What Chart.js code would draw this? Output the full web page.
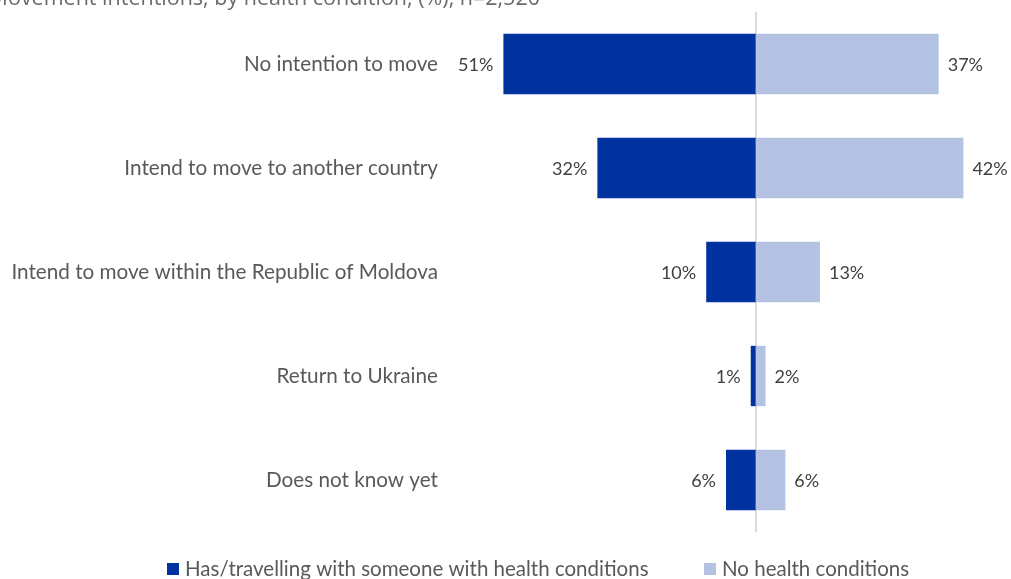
<!DOCTYPE html>
<html>
<head>
<meta charset="utf-8">
<script src="https://cdn.jsdelivr.net/npm/chart.js@4.4.1/dist/chart.umd.min.js"></script>
<style>
  html, body { margin: 0; padding: 0; background: #ffffff; }
  #wrap { width: 1011px; height: 579px; position: relative; }
</style>
</head>
<body>
<div id="wrap"><canvas id="chart"></canvas></div>
<script>
// Movement intentions split by health condition (percent of respondents)
const categories = [
  'No intention to move',
  'Intend to move to another country',
  'Intend to move within the Republic of Moldova',
  'Return to Ukraine',
  'Does not know yet'
];
const healthLabel = 'Has/travelling with someone with health conditions';
const noHealthLabel = 'No health conditions';
const healthValues = [51, 32, 10, 1, 6];
const noHealthValues = [37, 42, 13, 2, 6];
const titleText = 'Movement intentions, by health condition, (%), n=2,520';

const DARK = '#0033a0';
const LIGHT = '#b4c3e3';
const LABEL_FONT = 'Lato, "Open Sans", sans-serif';

// Zero line behind the bars
const zeroLine = {
  id: 'zeroLine',
  beforeDatasetsDraw(chart) {
    const { ctx, chartArea, scales } = chart;
    const x = Math.round(scales.x.getPixelForValue(0));
    ctx.save();
    ctx.strokeStyle = '#d9d9d9';
    ctx.lineWidth = 2;
    ctx.beginPath();
    ctx.moveTo(x, chartArea.top);
    ctx.lineTo(x, chartArea.bottom);
    ctx.stroke();
    ctx.restore();
  }
};

// Percent labels beside each bar end
const valueLabels = {
  id: 'valueLabels',
  afterDatasetsDraw(chart) {
    const { ctx } = chart;
    ctx.save();
    ctx.font = '18px ' + LABEL_FONT;
    ctx.fillStyle = '#404040';
    ctx.textBaseline = 'middle';
    chart.data.datasets.forEach((ds, di) => {
      const meta = chart.getDatasetMeta(di);
      const src = di === 0 ? healthValues : noHealthValues;
      meta.data.forEach((bar, i) => {
        const text = src[i] + '%';
        if (di === 0) {
          ctx.textAlign = 'right';
          ctx.fillText(text, bar.x - 10, bar.y + 1);
        } else {
          ctx.textAlign = 'left';
          ctx.fillText(text, bar.x + 9, bar.y + 1);
        }
      });
    });
    ctx.restore();
  }
};

// Title line and the legend along the bottom
const decorations = {
  id: 'decorations',
  afterDraw(chart) {
    const { ctx } = chart;
    ctx.save();
    ctx.font = '21.5px "Open Sans", sans-serif';
    ctx.fillStyle = '#6b6b6b';
    ctx.textAlign = 'right';
    ctx.textBaseline = 'alphabetic';
    ctx.fillText(titleText, 540, 5);

    const items = [
      { x: 167, ds: chart.data.datasets[0] },
      { x: 704, ds: chart.data.datasets[1] }
    ];
    ctx.font = '20.5px ' + LABEL_FONT;
    ctx.textAlign = 'left';
    ctx.textBaseline = 'middle';
    items.forEach(it => {
      ctx.fillStyle = it.ds.backgroundColor;
      ctx.fillRect(it.x, 563, 12, 12);
      ctx.fillStyle = '#595959';
      ctx.fillText(it.ds.label, it.x + 18, 569);
    });
    ctx.restore();
  }
};

new Chart(document.getElementById('chart'), {
  type: 'bar',
  data: {
    labels: categories,
    datasets: [
      {
        label: healthLabel,
        data: healthValues.map(v => -v),
        backgroundColor: DARK,
        categoryPercentage: 1,
        barPercentage: 0.58
      },
      {
        label: noHealthLabel,
        data: noHealthValues,
        backgroundColor: LIGHT,
        categoryPercentage: 1,
        barPercentage: 0.58
      }
    ]
  },
  options: {
    indexAxis: 'y',
    responsive: true,
    maintainAspectRatio: false,
    animation: false,
    layout: { padding: { left: 0, right: 8, top: 12, bottom: 47 } },
    plugins: {
      legend: { display: false },
      tooltip: { enabled: false },
      title: { display: false }
    },
    scales: {
      x: {
        display: false,
        stacked: true,
        min: -62.2,
        max: 50
      },
      y: {
        stacked: true,
        grid: { display: false, drawTicks: false },
        border: { display: false },
        ticks: {
          padding: 10,
          color: '#595959',
          font: { family: LABEL_FONT, size: 20.7 }
        },
        afterFit(scale) {
          scale.width = 448;
          scale.paddingTop = 0;
          scale.paddingBottom = 0;
        }
      }
    }
  },
  plugins: [zeroLine, valueLabels, decorations]
});
</script>
</body>
</html>
